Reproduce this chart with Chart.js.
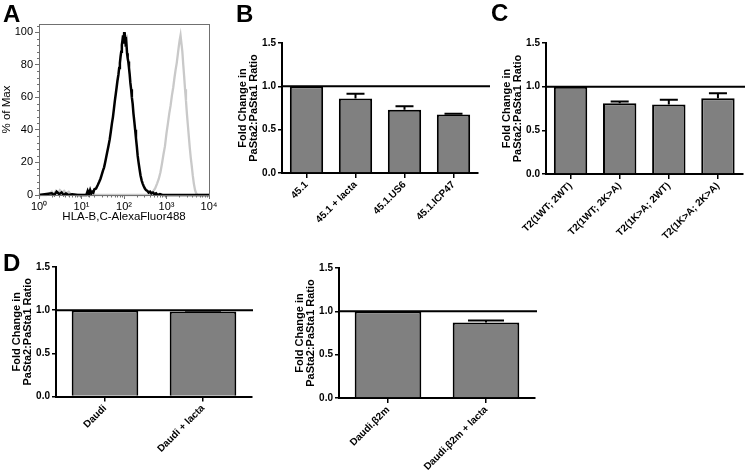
<!DOCTYPE html>
<html>
<head>
<meta charset="utf-8">
<script src="https://cdn.jsdelivr.net/npm/chart.js@4.4.1/dist/chart.umd.min.js"></script>
<style>
html, body { margin: 0; padding: 0; background: #fff; }
body { width: 745px; height: 471px; position: relative; overflow: hidden; font-family: "Liberation Sans", Arial, sans-serif; }
canvas { position: absolute; }
.lbl { position: absolute; font-weight: bold; font-size: 24px; line-height: 24px; color: #000; }
</style>
</head>
<body>
<canvas id="histA" width="235" height="230" style="left:0;top:0"></canvas>
<canvas id="barB" width="258" height="223" style="left:237px;top:30px"></canvas>
<canvas id="barC" width="244" height="224" style="left:501px;top:30px"></canvas>
<canvas id="barD1" width="245" height="217" style="left:11px;top:254px"></canvas>
<canvas id="barD2" width="246" height="216" style="left:294px;top:255px"></canvas>
<div class="lbl" style="left:3px;top:2px">A</div>
<div class="lbl" style="left:236px;top:2px">B</div>
<div class="lbl" style="left:491px;top:1px">C</div>
<div class="lbl" style="left:3px;top:251px">D</div>
<script>
// panel A histograms (x = fluorescence, y = % of max)
const blackX = [1, 2, 2.3, 2.6, 3, 3.4, 3.8, 4.3, 5, 6, 8, 10, 12, 13, 14, 15, 16, 17, 18, 19, 20, 22, 24, 26, 28, 30, 32, 34, 36, 38, 40, 43, 46, 49, 52, 55, 58, 61, 64, 67, 70, 74, 77, 80, 83, 86, 89, 92, 95, 98, 101, 104, 107, 110, 114, 118, 122, 126, 131, 136, 141, 147, 153, 160, 167, 175, 183, 191, 200, 210, 220, 232, 245, 260, 275, 290, 310, 330, 355, 380, 410, 440, 480, 520, 570, 620, 700, 800, 1000, 10000];
const blackY = [0, 1, 0, 2, 0.5, 1.5, 0, 1, 0, 0.5, 0, 0, 0, 0, 2.5, 0.5, 3, 1, 2, 1.5, 3.5, 4, 6, 8, 10, 12.5, 15, 17, 20, 23, 26, 30, 34, 39, 44, 48, 53, 58, 62, 66, 70, 74, 78, 81, 85, 88, 92, 95, 98, 93, 100, 94, 97, 91, 93, 87, 84, 82, 78, 74, 69, 65, 60, 56, 50, 45, 40, 35, 30, 24, 20, 16, 12, 9, 7, 5.5, 4, 3, 2.5, 1.5, 2, 1, 1.5, 0.5, 1, 0, 0.5, 0, 0, 0];
const greyX = [1, 1.5, 1.8, 2, 2.2, 2.5, 2.8, 3.1, 3.5, 3.9, 4.4, 5, 5.6, 7, 10, 100, 350, 420, 480, 540, 600, 660, 720, 780, 850, 920, 1000, 1080, 1160, 1250, 1340, 1440, 1540, 1640, 1740, 1840, 1940, 2040, 2140, 2250, 2360, 2480, 2600, 2730, 2870, 3020, 3180, 3350, 3530, 3720, 3920, 4150, 4400, 4700, 5000, 5400, 6000, 10000];
const greyY = [0, 0, 1, 2, 0.5, 2.5, 1, 3, 1.5, 2.5, 1, 2, 0.5, 0.3, 0, 0, 0, 0.5, 2, 4, 7, 10, 14, 19, 25, 30, 38, 44, 50, 55, 61, 66, 72, 77, 81, 86, 91, 95, 98, 93, 88, 80, 73, 65, 58, 50, 43, 36, 29, 23, 18, 12, 7, 3, 1, 0, 0, 0];
const decadeTicks = [1, 10, 100, 1000, 10000];
const pctTicks = [0, 20, 40, 60, 80, 100];

// panel B
const bLabels = ['45.1', '45.1 + lacta', '45.1.US6', '45.1.ICP47'];
const bValues = [1.0, 0.86, 0.73, 0.675];
const bErrors = [0, 0.055, 0.04, 0.008];
// panel C
const cLabels = ['T2(1WT; 2WT)', 'T2(1WT; 2K>A)', 'T2(1K>A; 2WT)', 'T2(1K>A; 2K>A)'];
const cValues = [1.0, 0.81, 0.795, 0.867];
const cErrors = [0, 0.02, 0.055, 0.057];
// panel D
const d1Labels = ['Daudi', 'Daudi + lacta'];
const d1Values = [1.0, 0.985];
const d1Errors = [0, 0.008];
const d2Labels = ['Daudi.\u03b22m', 'Daudi.\u03b22m + lacta'];
const d2Values = [1.0, 0.87];
const d2Errors = [0, 0.025];

const yTitle = ['Fold Change in', 'PaSta2:PaSta1 Ratio'];
const FAM = '"Liberation Sans", Arial, sans-serif';
Chart.defaults.font.family = FAM;

const sup = ['\u2070', '\u00b9', '\u00b2', '\u00b3', '\u2074'];

// frame + minor ticks for the histogram
const histFrame = {
  id: 'histFrame',
  afterDraw(chart) {
    const { ctx, chartArea: a, scales } = chart;
    ctx.save();
    ctx.strokeStyle = '#707070';
    ctx.lineWidth = 1;
    ctx.strokeRect(a.left + 0.5, a.top + 0.5, a.right - a.left, a.bottom - a.top);
    ctx.beginPath();
    for (let v = 4; v < 105; v += 4) {
      if (v % 20 === 0) continue;
      const y = Math.round(scales.y.getPixelForValue(v)) + 0.5;
      ctx.moveTo(a.left - 2, y); ctx.lineTo(a.left, y);
    }
    for (let d = 1; d < 10000; d *= 10) {
      for (let k = 2; k < 10; k++) {
        const x = Math.round(scales.x.getPixelForValue(d * k)) + 0.5;
        ctx.moveTo(x, a.bottom); ctx.lineTo(x, a.bottom + 2.5);
      }
    }
    ctx.stroke();
    ctx.restore();
  }
};

new Chart(document.getElementById('histA'), {
  type: 'line',
  data: {
    datasets: [
      { data: blackX.map((x, i) => ({ x, y: blackY[i] })), borderColor: '#000', borderWidth: 2.5, pointRadius: 0, tension: 0, clip: 4 },
      { data: greyX.map((x, i) => ({ x, y: greyY[i] })), borderColor: '#c9c9c9', borderWidth: 2.3, pointRadius: 0, tension: 0, clip: 4 }
    ]
  },
  options: {
    responsive: false, animation: false, events: [],
    layout: { padding: { top: 24, right: 26, left: 0, bottom: 0 } },
    plugins: { legend: { display: false }, tooltip: { enabled: false } },
    scales: {
      x: {
        type: 'logarithmic', min: 1, max: 10000,
        afterBuildTicks: s => { s.ticks = decadeTicks.map(v => ({ value: v })); },
        afterFit: s => { s.height = 35; },
        ticks: { callback: v => '10' + sup[Math.round(Math.log10(v))], font: { size: 11 }, color: '#000', padding: 1, maxRotation: 0, autoSkip: false },
        grid: { drawOnChartArea: false, tickLength: 4, color: '#707070' },
        border: { color: '#707070' },
        title: { display: true, text: 'HLA-B,C-AlexaFluor488', font: { size: 11.5 }, color: '#000', padding: { top: 0, bottom: 6 } }
      },
      y: {
        min: 0, max: 105,
        afterBuildTicks: s => { s.ticks = pctTicks.map(v => ({ value: v })); },
        afterFit: s => { s.width = 39; },
        ticks: { font: { size: 11 }, color: '#000', padding: 2 },
        grid: { drawOnChartArea: false, tickLength: 4, color: '#707070' },
        border: { color: '#707070' },
        title: { display: true, text: '% of Max', font: { size: 11.5 }, color: '#000', padding: 0 }
      }
    }
  },
  plugins: [histFrame]
});

// reference line at 1.0 and upper error caps
const barExtras = {
  id: 'barExtras',
  afterDatasetsDraw(chart, args, opts) {
    const { ctx, chartArea: a, scales } = chart;
    const ds = chart.data.datasets[0];
    const meta = chart.getDatasetMeta(0);
    ctx.save();
    ctx.strokeStyle = '#000';
    ctx.lineWidth = 2;
    ctx.beginPath();
    meta.data.forEach((bar, i) => {
      const err = ds.errors[i];
      if (!err) return;
      const yTop = scales.y.getPixelForValue(ds.data[i] + err);
      const half = bar.width * 0.27;
      ctx.moveTo(bar.x, bar.y); ctx.lineTo(bar.x, yTop);
      ctx.moveTo(bar.x - half, yTop); ctx.lineTo(bar.x + half, yTop);
    });
    const y1 = scales.y.getPixelForValue(1);
    ctx.moveTo(a.left, y1); ctx.lineTo(a.right + opts.extra, y1);
    ctx.stroke();
    ctx.restore();
  }
};

function barPanel(id, labels, values, errors, padRight, extra, xHeight) {
  return new Chart(document.getElementById(id), {
    type: 'bar',
    data: {
      labels: labels,
      datasets: [{ data: values, errors: errors, backgroundColor: '#808080', borderColor: '#000', borderWidth: 2, barPercentage: 0.68, categoryPercentage: 1 }]
    },
    options: {
      responsive: false, animation: false, events: [],
      layout: { padding: { top: 13, right: padRight, left: 0, bottom: 0 } },
      plugins: { legend: { display: false }, tooltip: { enabled: false }, barExtras: { extra: extra } },
      scales: {
        x: {
          afterFit: s => { s.height = xHeight; },
          ticks: { font: { size: 10, weight: 'bold' }, color: '#000', minRotation: 45, maxRotation: 45, autoSkip: false, padding: 1 },
          grid: { offset: false, drawOnChartArea: false, tickLength: 5, color: '#000', lineWidth: 1.5 },
          border: { color: '#000', width: 2 }
        },
        y: {
          min: 0, max: 1.5,
          afterFit: s => { s.width = 45; },
          ticks: { stepSize: 0.5, callback: v => v.toFixed(1), font: { size: 10, weight: 'bold' }, color: '#000', padding: 2 },
          grid: { drawOnChartArea: false, tickLength: 4, color: '#000', lineWidth: 1.5 },
          border: { color: '#000', width: 2 },
          title: { display: true, text: yTitle, font: { size: 11, weight: 'bold', lineHeight: 1 }, color: '#000', padding: 0 }
        }
      }
    },
    plugins: [barExtras]
  });
}

barPanel('barB', bLabels, bValues, bErrors, 17, 12, 80);
barPanel('barC', cLabels, cValues, cErrors, 2.5, 2.5, 80);
barPanel('barD1', d1Labels, d1Values, d1Errors, 4, 1, 74.5);
barPanel('barD2', d2Labels, d2Values, d2Errors, 5, 2, 73);
</script>
</body>
</html>
